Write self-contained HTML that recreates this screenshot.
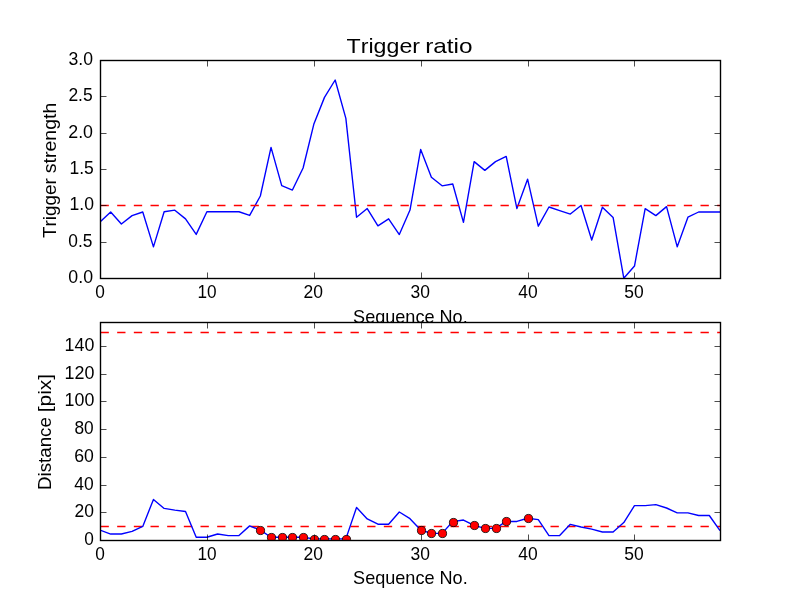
<!DOCTYPE html>
<html><head><meta charset="utf-8"><title>Trigger ratio</title>
<style>
html,body{margin:0;padding:0;background:#fff;}
body{width:800px;height:600px;overflow:hidden;position:relative;}
svg{position:absolute;left:0;top:0;display:block;}
text{font-family:"Liberation Sans",sans-serif;fill:#000;font-kerning:none;}
.tk,.lb{font-size:17.66px;}
.ti{font-size:20.4px;}
.sp{fill:none;stroke:#000;stroke-width:1.39;stroke-linecap:square;}
.t{stroke:#000;stroke-width:0.7;fill:none;}
.bl{fill:none;stroke:#0000ff;stroke-width:1.39;stroke-linejoin:round;stroke-linecap:butt;}
.rd{fill:none;stroke:#ff0000;stroke-width:1.39;stroke-dasharray:8.3333 8.3333;}
.mk{fill:#ff0000;stroke:#000;stroke-width:0.8;}
</style></head><body>
<svg width="800" height="600" viewBox="0 0 800 600">
<defs><clipPath id="c1"><rect x="100.5" y="60.5" width="620.0" height="218.0"/></clipPath>
<clipPath id="c2"><rect x="100.5" y="322.5" width="620.0" height="218.0"/></clipPath></defs>
<rect x="0" y="0" width="800" height="600" fill="#ffffff"/>
<rect x="0" y="0" width="1" height="1" fill="#ffffff" style="mix-blend-mode:darken"/>
<g id="ax1">
<text class="ti" x="346.55" y="53" textLength="73.5" lengthAdjust="spacingAndGlyphs">Trigger</text>
<text class="ti" x="425.16" y="53" textLength="47.43" lengthAdjust="spacingAndGlyphs">ratio</text>
<text class="lb" x="353.08" y="323" textLength="114.6" lengthAdjust="spacingAndGlyphs">Sequence No.</text>
<text class="lb" transform="translate(56.28,238.08) rotate(-90)" textLength="59.89" lengthAdjust="spacingAndGlyphs">Trigger</text>
<text class="lb" transform="translate(56.31,173.29) rotate(-90)" textLength="70.66" lengthAdjust="spacingAndGlyphs">strength</text>
<g clip-path="url(#c1)">
<polyline class="bl" points="100,222.04 110.69,212 121.38,224 132.07,215.64 142.76,212 153.45,246.83 164.14,211.78 174.83,210.18 185.52,218.84 196.21,234.4 206.9,211.78 217.59,211.78 228.28,211.78 238.97,211.78 249.66,215.42 260.34,196 271.03,147.42 281.72,185.6 292.41,190.04 303.1,168 313.79,124.36 324.48,97.38 335.17,80 345.86,118.4 356.55,217.24 367.24,208.58 377.93,225.82 388.62,218.84 399.31,234.54 410,210.04 420.69,149.45 431.38,177.24 442.07,185.82 452.76,184 463.45,222.4 474.14,161.6 484.83,170.4 495.52,161.6 506.21,156.44 516.9,208.58 527.59,179.2 538.28,226.18 548.97,206.98 559.66,210.62 570.34,214.04 581.03,205.45 591.72,240 602.41,207.2 613.1,217.38 623.79,278.18 634.48,266.03 645.17,208.58 655.86,215.64 666.55,206.62 677.24,246.83 687.93,217.24 698.62,212 709.31,212 720,212"/>
<line class="rd" x1="100.5" x2="720.5" y1="205.5" y2="205.5"/>
</g>
<line class="t" x1="100.5" x2="100.5" y1="278.5" y2="272.5"/>
<line class="t" x1="100.5" x2="100.5" y1="60.5" y2="66.5"/>
<text class="tk" x="95.36" y="298" textLength="9.61" lengthAdjust="spacingAndGlyphs">0</text>
<line class="t" x1="207.5" x2="207.5" y1="278.5" y2="272.5"/>
<line class="t" x1="207.5" x2="207.5" y1="60.5" y2="66.5"/>
<text class="tk" x="197.54" y="298" textLength="19.14" lengthAdjust="spacingAndGlyphs">10</text>
<line class="t" x1="314.5" x2="314.5" y1="278.5" y2="272.5"/>
<line class="t" x1="314.5" x2="314.5" y1="60.5" y2="66.5"/>
<text class="tk" x="303.42" y="298" textLength="19.45" lengthAdjust="spacingAndGlyphs">20</text>
<line class="t" x1="421.5" x2="421.5" y1="278.5" y2="272.5"/>
<line class="t" x1="421.5" x2="421.5" y1="60.5" y2="66.5"/>
<text class="tk" x="410.44" y="298" textLength="19.43" lengthAdjust="spacingAndGlyphs">30</text>
<line class="t" x1="528.5" x2="528.5" y1="278.5" y2="272.5"/>
<line class="t" x1="528.5" x2="528.5" y1="60.5" y2="66.5"/>
<text class="tk" x="518.29" y="298" textLength="19.41" lengthAdjust="spacingAndGlyphs">40</text>
<line class="t" x1="634.5" x2="634.5" y1="278.5" y2="272.5"/>
<line class="t" x1="634.5" x2="634.5" y1="60.5" y2="66.5"/>
<text class="tk" x="624.3" y="298" textLength="19.42" lengthAdjust="spacingAndGlyphs">50</text>
<line class="t" x1="100.5" x2="106.5" y1="278.5" y2="278.5"/>
<line class="t" x1="720.5" x2="714.5" y1="278.5" y2="278.5"/>
<text class="tk" x="68.33" y="283" textLength="24.68" lengthAdjust="spacingAndGlyphs">0.0</text>
<line class="t" x1="100.5" x2="106.5" y1="242.5" y2="242.5"/>
<line class="t" x1="720.5" x2="714.5" y1="242.5" y2="242.5"/>
<text class="tk" x="68.37" y="247" textLength="24.15" lengthAdjust="spacingAndGlyphs">0.5</text>
<line class="t" x1="100.5" x2="106.5" y1="205.5" y2="205.5"/>
<line class="t" x1="720.5" x2="714.5" y1="205.5" y2="205.5"/>
<text class="tk" x="69.58" y="210" textLength="24.44" lengthAdjust="spacingAndGlyphs">1.0</text>
<line class="t" x1="100.5" x2="106.5" y1="169.5" y2="169.5"/>
<line class="t" x1="720.5" x2="714.5" y1="169.5" y2="169.5"/>
<text class="tk" x="69.54" y="174" textLength="24.32" lengthAdjust="spacingAndGlyphs">1.5</text>
<line class="t" x1="100.5" x2="106.5" y1="133.5" y2="133.5"/>
<line class="t" x1="720.5" x2="714.5" y1="133.5" y2="133.5"/>
<text class="tk" x="68.26" y="138" textLength="24.79" lengthAdjust="spacingAndGlyphs">2.0</text>
<line class="t" x1="100.5" x2="106.5" y1="96.5" y2="96.5"/>
<line class="t" x1="720.5" x2="714.5" y1="96.5" y2="96.5"/>
<text class="tk" x="68.39" y="101" textLength="24.28" lengthAdjust="spacingAndGlyphs">2.5</text>
<line class="t" x1="100.5" x2="106.5" y1="60.5" y2="60.5"/>
<line class="t" x1="720.5" x2="714.5" y1="60.5" y2="60.5"/>
<text class="tk" x="68.44" y="65" textLength="24.5" lengthAdjust="spacingAndGlyphs">3.0</text>
<rect class="sp" x="100.5" y="60.5" width="620.0" height="218.0"/>
</g>
<g id="ax2">
<rect x="100.5" y="322.5" width="620.0" height="218.0" fill="#ffffff"/>
<text class="lb" x="353.08" y="584" textLength="114.6" lengthAdjust="spacingAndGlyphs">Sequence No.</text>
<text class="lb" transform="translate(51.31,489.98) rotate(-90)" textLength="72.83" lengthAdjust="spacingAndGlyphs">Distance</text>
<text class="lb" transform="translate(51.31,412.22) rotate(-90)" textLength="38.26" lengthAdjust="spacingAndGlyphs">[pix]</text>
<g clip-path="url(#c2)">
<line class="rd" x1="100.5" x2="720.5" y1="526.5" y2="526.5"/>
<line class="rd" x1="100.5" x2="720.5" y1="332.5" y2="332.5"/>
<polyline class="bl" points="100,530.03 110.69,534.04 121.38,534.04 132.07,531.41 142.76,526.42 153.45,499.41 164.14,508.42 174.83,510.08 185.52,511.46 196.21,537.23 206.9,537.23 217.59,534.04 228.28,535.57 238.97,535.57 249.66,525.87 260.34,530.16 271.03,537.23 281.72,537.23 292.41,537.23 303.1,537.23 313.79,538.89 324.48,538.89 335.17,538.89 345.86,538.89 356.55,507.45 367.24,518.94 377.93,524.21 388.62,524.21 399.31,512.02 410,518.67 420.69,530.03 431.38,533.35 442.07,533.35 452.76,521.58 463.45,520.05 474.14,525.45 484.83,528.36 495.52,528.36 506.21,521.44 516.9,521.44 527.59,518.25 538.28,519.64 548.97,535.57 559.66,535.57 570.34,524.35 581.03,526.98 591.72,529.19 602.41,531.97 613.1,531.97 623.79,522.55 634.48,505.65 645.17,505.65 655.86,504.68 666.55,508 677.24,512.85 687.93,512.85 698.62,515.48 709.31,515.48 720,530.58"/>
<g class="mk">
<circle cx="260.5" cy="530.5" r="4.1"/>
<circle cx="271.5" cy="537.5" r="4.1"/>
<circle cx="282.5" cy="537.5" r="4.1"/>
<circle cx="292.5" cy="537.5" r="4.1"/>
<circle cx="303.5" cy="537.5" r="4.1"/>
<circle cx="314.5" cy="539.5" r="4.1"/>
<circle cx="324.5" cy="539.5" r="4.1"/>
<circle cx="335.5" cy="539.5" r="4.1"/>
<circle cx="346.5" cy="539.5" r="4.1"/>
<circle cx="421.5" cy="530.5" r="4.1"/>
<circle cx="431.5" cy="533.5" r="4.1"/>
<circle cx="442.5" cy="533.5" r="4.1"/>
<circle cx="453.5" cy="522.5" r="4.1"/>
<circle cx="474.5" cy="525.5" r="4.1"/>
<circle cx="485.5" cy="528.5" r="4.1"/>
<circle cx="496.5" cy="528.5" r="4.1"/>
<circle cx="506.5" cy="521.5" r="4.1"/>
<circle cx="528.5" cy="518.5" r="4.1"/>
</g>
</g>
<line class="t" x1="100.5" x2="100.5" y1="540.5" y2="534.5"/>
<line class="t" x1="100.5" x2="100.5" y1="322.5" y2="328.5"/>
<text class="tk" x="95.36" y="560" textLength="9.61" lengthAdjust="spacingAndGlyphs">0</text>
<line class="t" x1="207.5" x2="207.5" y1="540.5" y2="534.5"/>
<line class="t" x1="207.5" x2="207.5" y1="322.5" y2="328.5"/>
<text class="tk" x="197.54" y="560" textLength="19.14" lengthAdjust="spacingAndGlyphs">10</text>
<line class="t" x1="314.5" x2="314.5" y1="540.5" y2="534.5"/>
<line class="t" x1="314.5" x2="314.5" y1="322.5" y2="328.5"/>
<text class="tk" x="303.42" y="560" textLength="19.45" lengthAdjust="spacingAndGlyphs">20</text>
<line class="t" x1="421.5" x2="421.5" y1="540.5" y2="534.5"/>
<line class="t" x1="421.5" x2="421.5" y1="322.5" y2="328.5"/>
<text class="tk" x="410.44" y="560" textLength="19.43" lengthAdjust="spacingAndGlyphs">30</text>
<line class="t" x1="528.5" x2="528.5" y1="540.5" y2="534.5"/>
<line class="t" x1="528.5" x2="528.5" y1="322.5" y2="328.5"/>
<text class="tk" x="518.29" y="560" textLength="19.41" lengthAdjust="spacingAndGlyphs">40</text>
<line class="t" x1="634.5" x2="634.5" y1="540.5" y2="534.5"/>
<line class="t" x1="634.5" x2="634.5" y1="322.5" y2="328.5"/>
<text class="tk" x="624.3" y="560" textLength="19.42" lengthAdjust="spacingAndGlyphs">50</text>
<line class="t" x1="100.5" x2="106.5" y1="540.5" y2="540.5"/>
<line class="t" x1="720.5" x2="714.5" y1="540.5" y2="540.5"/>
<text class="tk" x="84.36" y="545" textLength="9.61" lengthAdjust="spacingAndGlyphs">0</text>
<line class="t" x1="100.5" x2="106.5" y1="512.5" y2="512.5"/>
<line class="t" x1="720.5" x2="714.5" y1="512.5" y2="512.5"/>
<text class="tk" x="74.42" y="517" textLength="19.45" lengthAdjust="spacingAndGlyphs">20</text>
<line class="t" x1="100.5" x2="106.5" y1="485.5" y2="485.5"/>
<line class="t" x1="720.5" x2="714.5" y1="485.5" y2="485.5"/>
<text class="tk" x="74.29" y="490" textLength="19.41" lengthAdjust="spacingAndGlyphs">40</text>
<line class="t" x1="100.5" x2="106.5" y1="457.5" y2="457.5"/>
<line class="t" x1="720.5" x2="714.5" y1="457.5" y2="457.5"/>
<text class="tk" x="74.14" y="462" textLength="19.64" lengthAdjust="spacingAndGlyphs">60</text>
<line class="t" x1="100.5" x2="106.5" y1="429.5" y2="429.5"/>
<line class="t" x1="720.5" x2="714.5" y1="429.5" y2="429.5"/>
<text class="tk" x="74.4" y="434" textLength="19.24" lengthAdjust="spacingAndGlyphs">80</text>
<line class="t" x1="100.5" x2="106.5" y1="401.5" y2="401.5"/>
<line class="t" x1="720.5" x2="714.5" y1="401.5" y2="401.5"/>
<text class="tk" x="64.55" y="406" textLength="29.77" lengthAdjust="spacingAndGlyphs">100</text>
<line class="t" x1="100.5" x2="106.5" y1="374.5" y2="374.5"/>
<line class="t" x1="720.5" x2="714.5" y1="374.5" y2="374.5"/>
<text class="tk" x="64.52" y="379" textLength="29.91" lengthAdjust="spacingAndGlyphs">120</text>
<line class="t" x1="100.5" x2="106.5" y1="346.5" y2="346.5"/>
<line class="t" x1="720.5" x2="714.5" y1="346.5" y2="346.5"/>
<text class="tk" x="64.55" y="351" textLength="29.77" lengthAdjust="spacingAndGlyphs">140</text>
<rect class="sp" x="100.5" y="322.5" width="620.0" height="218.0"/>
</g>
</svg>
</body></html>
